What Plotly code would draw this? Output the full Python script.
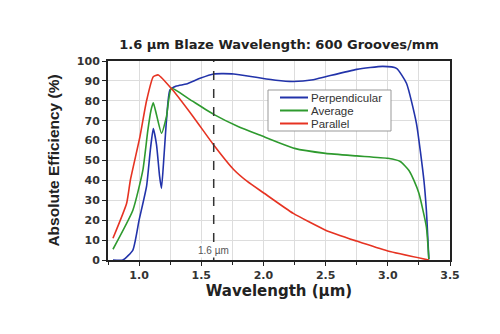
import plotly.graph_objects as go

# Data
perp_x = [0.79, 0.87, 0.95, 1.00, 1.06, 1.09, 1.114, 1.14, 1.165, 1.18, 1.20, 1.22, 1.248, 1.30, 1.38,
          1.49, 1.60, 1.76, 1.94, 2.10, 2.24, 2.40, 2.50, 2.75, 2.96, 3.07, 3.15, 3.23, 3.29, 3.31, 3.33]
perp_y = [0, 0, 5, 20, 37, 55, 66, 58, 42, 36, 52, 70, 85.4, 87.4, 88.4,
          91.3, 93.5, 93.5, 91.8, 90.3, 89.7, 90.6, 92.1, 95.8, 97.3, 96.3, 88.8, 68.7, 40.2, 25, 0.3]

avg_x = [0.79, 0.95, 1.03, 1.07, 1.095, 1.114, 1.14, 1.18, 1.22, 1.26, 1.40, 1.60, 1.80, 1.97,
         2.25, 2.50, 2.75, 3.00, 3.10, 3.17, 3.21, 3.25, 3.31, 3.33]
avg_y = [5.4, 25, 45, 65, 75, 79, 73, 63.7, 72, 86.3, 81, 73.2, 67, 62.8,
         56.1, 53.6, 52.3, 51.1, 49.5, 45, 40, 33.5, 16.7, 0.3]

par_x = [0.79, 0.90, 0.93, 1.007, 1.06, 1.114, 1.154, 1.27, 1.435, 1.60, 1.76, 1.87,
         2.00, 2.24, 2.50, 2.75, 3.00, 3.33]
par_y = [10.9, 28.5, 40.2, 62, 80, 92.1, 93, 85.4, 72, 57.8, 45.5, 39.5,
         33.8, 23.4, 15, 9.5, 4.5, 0]

series = [
    ("Perpendicular", perp_x, perp_y, "#2233aa"),
    ("Average", avg_x, avg_y, "#2e9a2e"),
    ("Parallel", par_x, par_y, "#e63322"),
]

blaze = 1.6
x_ticks = [1.0, 1.5, 2.0, 2.5, 3.0, 3.5]
y_ticks = [0, 10, 20, 30, 40, 50, 60, 70, 80, 90, 100]

fig = go.Figure()
for name, xs, ys, col in series:
    fig.add_trace(go.Scatter(x=xs, y=ys, mode="lines", name=name, showlegend=False,
                             line=dict(color=col, width=1.6, shape="spline", smoothing=0.5)))

fig.add_shape(type="line", x0=blaze, x1=blaze, y0=0, y1=100, xref="x", yref="y",
              line=dict(color="#333333", width=1.5, dash="dash"))
fig.add_annotation(x=blaze, y=5, text="1.6 µm", showarrow=False, bgcolor="white",
                   font=dict(family="Liberation Sans, Arial", size=10, color="#555555"))

# Manual legend box (paper coords; plot area is 342 x 199 px)
pw, ph = 342.0, 199.0
def px(xp):
    return (xp - 108) / pw
def py(yp):
    return (260 - yp) / ph

fig.add_shape(type="rect", xref="paper", yref="paper", x0=px(268), x1=px(391), y0=py(131), y1=py(90),
              line=dict(color="#999999", width=1), fillcolor="white", layer="above")
row_y = [97.5, 110.5, 123.5]
for (name, _, _, col), ry in zip(series, row_y):
    fig.add_shape(type="line", xref="paper", yref="paper", x0=px(280), x1=px(308), y0=py(ry), y1=py(ry),
                  line=dict(color=col, width=2), layer="above")
    fig.add_annotation(xref="paper", yref="paper", x=px(310), y=py(ry), text=name, showarrow=False,
                       xanchor="left", yanchor="middle", borderpad=0,
                       font=dict(family="Liberation Sans, Arial", size=11.5, color="#333333"))

fig.update_layout(
    width=500, height=334,
    margin=dict(l=108, r=50, t=61, b=74),
    paper_bgcolor="white", plot_bgcolor="white",
    title=dict(text="<b>1.6 µm Blaze Wavelength: 600 Grooves/mm</b>", x=0.558, xanchor="center",
               y=0.868, yanchor="middle",
               font=dict(family="DejaVu Sans", size=13, color="#222222")),
    font=dict(family="Liberation Sans, Arial", color="#333333"),
    showlegend=False,
)
fig.update_xaxes(range=[0.75, 3.5], tickvals=x_ticks, ticktext=[f"<b>{v:.1f}</b>" for v in x_ticks],
                 tickfont=dict(family="DejaVu Sans", size=11, color="#333333"),
                 showgrid=True, gridcolor="#dddddd", gridwidth=1,
                 minor=dict(dtick=0.25, tick0=0.75, showgrid=True, gridcolor="#dddddd", ticks="outside", ticklen=3, tickcolor="#222222"),
                 showline=True, linecolor="#222222", linewidth=2, mirror=True,
                 ticks="outside", ticklen=4, tickcolor="#222222", zeroline=False,
                 title=dict(text="<b>Wavelength (µm)</b>", font=dict(family="DejaVu Sans", size=15, color="#222222"), standoff=4))
fig.update_yaxes(range=[0, 100], tickvals=y_ticks, ticktext=[f"<b>{v}</b>" for v in y_ticks],
                 tickfont=dict(family="DejaVu Sans", size=11, color="#333333"),
                 showgrid=True, gridcolor="#dddddd", gridwidth=1,
                 showline=True, linecolor="#222222", linewidth=2, mirror=True,
                 ticks="outside", ticklen=4, tickcolor="#222222", zeroline=False,
                 title=dict(text="<b>Absolute Efficiency (%)</b>", font=dict(family="Liberation Sans, Arial", size=15.5, color="#222222"), standoff=13))

fig.write_html("out.html")
